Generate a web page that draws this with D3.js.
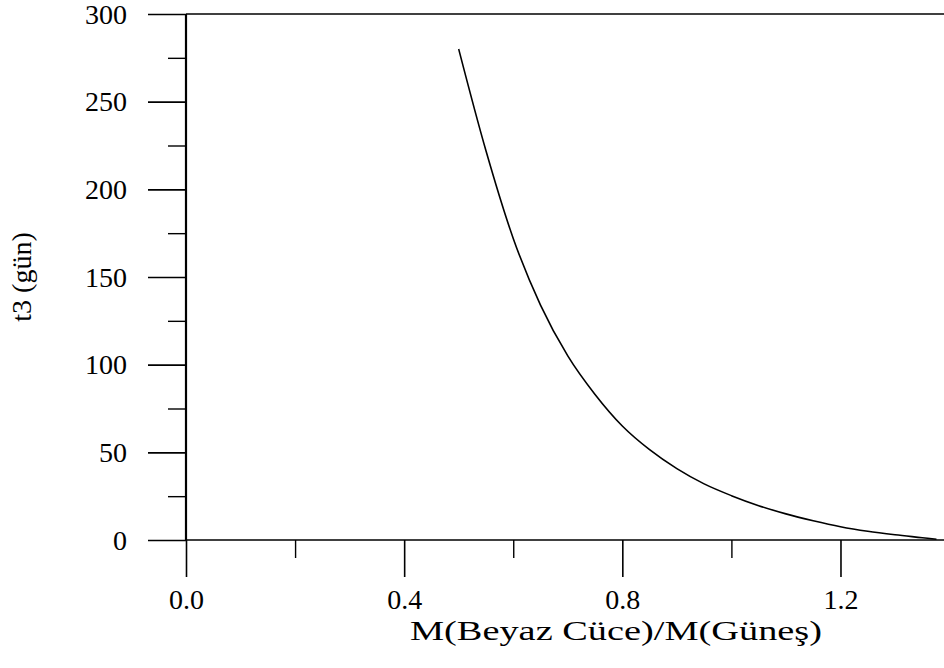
<!DOCTYPE html>
<html>
<head>
<meta charset="utf-8">
<script src="https://cdn.jsdelivr.net/npm/d3@7"></script>
<style>
  html, body { margin: 0; padding: 0; background: #fff; }
  svg { display: block; }
  text { font-family: "Liberation Serif", "Times New Roman", serif; fill: #000; }
</style>
</head>
<body>
<svg id="chart" width="944" height="668"></svg>
<script>
// Data
const mass = [0.50, 0.55, 0.60, 0.65, 0.70, 0.75, 0.80, 0.85, 0.90, 0.95, 1.00, 1.05, 1.10, 1.15, 1.20, 1.25, 1.30, 1.35, 1.376];
const t3   = [280, 222, 172, 134, 105, 83, 65, 51.5, 40.7, 32, 25.3, 19.6, 14.9, 11, 7.6, 5, 3, 1.3, 0.4];
const xMajorTicks = [0.0, 0.4, 0.8, 1.2];
const xMinorTicks = [0.2, 0.6, 1.0];
const yMajorTicks = [0, 50, 100, 150, 200, 250, 300];
const yMinorTicks = [25, 75, 125, 175, 225, 275];
const xTitle = "M(Beyaz Cüce)/M(Güneş)";
const yTitle = "t3 (gün)";

const svg = d3.select("#chart");
const x = d3.scaleLinear().domain([0, 1.4]).range([186, 186 + 1.4 * 545.4]);
const y = d3.scaleLinear().domain([0, 300]).range([540, 14]);
const fs = 28;

// Y axis major
const gyMaj = svg.append("g").attr("transform", `translate(${x(0)},0)`)
  .call(d3.axisLeft(y).tickValues(yMajorTicks).tickSize(38).tickPadding(21).tickFormat(d3.format("d")));
gyMaj.select(".domain").remove();
gyMaj.selectAll("line").attr("stroke", "#000").attr("stroke-width", 1.6);
gyMaj.selectAll("text").attr("font-size", fs).attr("dy", "0.33em")
  .style("font-family", "'Liberation Serif', serif");

// Y axis minor
const gyMin = svg.append("g").attr("transform", `translate(${x(0)},0)`)
  .call(d3.axisLeft(y).tickValues(yMinorTicks).tickSize(18).tickFormat(""));
gyMin.select(".domain").remove();
gyMin.selectAll("line").attr("stroke", "#000").attr("stroke-width", 1.4);

// X axis major
const gxMaj = svg.append("g").attr("transform", `translate(0,${y(0)})`)
  .call(d3.axisBottom(x).tickValues(xMajorTicks).tickSize(37).tickPadding(55).tickFormat(d3.format(".1f")));
gxMaj.select(".domain").remove();
gxMaj.selectAll("line").attr("stroke", "#000").attr("stroke-width", 1.6);
gxMaj.selectAll("text").attr("font-size", fs).attr("dy", "0")
  .style("font-family", "'Liberation Serif', serif");
gxMaj.selectAll("text").attr("y", 69);

// X axis minor
const gxMin = svg.append("g").attr("transform", `translate(0,${y(0)})`)
  .call(d3.axisBottom(x).tickValues(xMinorTicks).tickSize(18).tickFormat(""));
gxMin.select(".domain").remove();
gxMin.selectAll("line").attr("stroke", "#000").attr("stroke-width", 1.4);

// Axis lines
svg.append("line").attr("x1", x(0)).attr("x2", 944).attr("y1", y(0)).attr("y2", y(0))
  .attr("stroke", "#000").attr("stroke-width", 1.6);
svg.append("line").attr("x1", x(0)).attr("x2", 944).attr("y1", y(300)).attr("y2", y(300))
  .attr("stroke", "#000").attr("stroke-width", 1.6);
svg.append("line").attr("x1", x(0)).attr("x2", x(0)).attr("y1", y(300)).attr("y2", y(0))
  .attr("stroke", "#000").attr("stroke-width", 2.2);

// Curve
const pts = mass.map((m, i) => [m, t3[i]]);
svg.append("path").datum(pts)
  .attr("fill", "none").attr("stroke", "#000").attr("stroke-width", 1.6)
  .attr("d", d3.line().x(d => x(d[0])).y(d => y(d[1])).curve(d3.curveMonotoneX));

// Titles
svg.append("text").attr("x", 616).attr("y", 640).attr("text-anchor", "middle")
  .attr("font-size", fs).attr("textLength", 412).attr("lengthAdjust", "spacingAndGlyphs")
  .text(xTitle);
svg.append("text").attr("transform", "translate(31,277) rotate(-90)").attr("text-anchor", "middle")
  .attr("font-size", fs).text(yTitle);
</script>
</body>
</html>
